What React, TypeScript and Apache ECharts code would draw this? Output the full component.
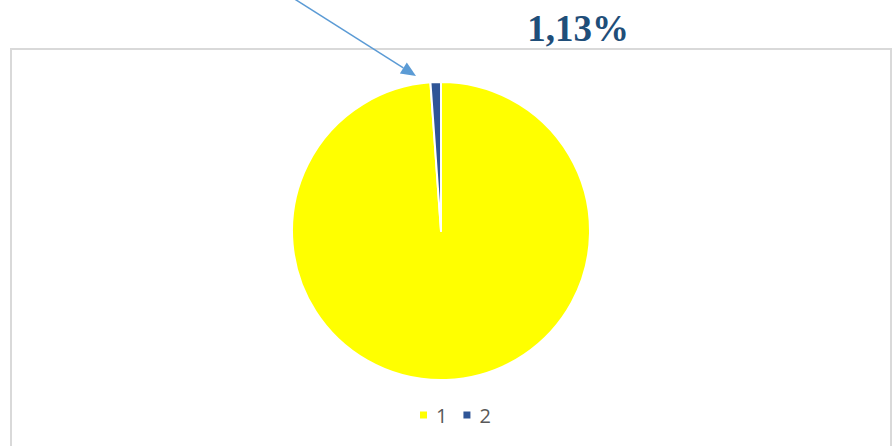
import React, { useEffect, useRef } from "react";
import * as echarts from "echarts";

const categories = ["1", "2"];
const values = [98.87, 1.13];
const colors = ["#FFFF00", "#2F5597"];
const annotation = "1,13%";

export default function App() {
  const ref = useRef<HTMLDivElement>(null);
  useEffect(() => {
    document.body.style.margin = "0";
    const chart = echarts.init(ref.current!, null, { renderer: "svg" });
    const tip = [416, 76];
    const start = [293, -2];
    const dx = tip[0] - start[0];
    const dy = tip[1] - start[1];
    const len = Math.sqrt(dx * dx + dy * dy);
    const ux = dx / len;
    const uy = dy / len;
    const hl = 15;
    const hw = 6.5;
    const bx = tip[0] - hl * ux;
    const by = tip[1] - hl * uy;
    chart.setOption({
      animation: false,
      backgroundColor: "#ffffff",
      legend: {
        data: categories,
        top: 400,
        left: 413,
        icon: "rect",
        itemWidth: 9,
        itemHeight: 9,
        itemGap: 14,
        textStyle: {
          fontSize: 20,
          color: "#595959",
          fontFamily: "'Open Sans'",
          padding: [0, 0, 0, 3],
        },
      },
      graphic: [
        {
          type: "rect",
          shape: { x: 11, y: 49, width: 880, height: 420 },
          style: { fill: "none", stroke: "#d9d9d9", lineWidth: 2 },
          silent: true,
          z: -1,
        },
        {
          type: "line",
          shape: { x1: start[0], y1: start[1], x2: bx, y2: by },
          style: { stroke: "#5B9BD5", lineWidth: 1.5 },
        },
        {
          type: "polygon",
          shape: {
            points: [
              [tip[0], tip[1]],
              [bx - hw * uy, by + hw * ux],
              [bx + hw * uy, by - hw * ux],
            ],
          },
          style: { fill: "#5B9BD5" },
        },
        {
          type: "text",
          x: 578,
          y: 28,
          style: {
            text: annotation,
            fontFamily: "'Liberation Serif', 'Times New Roman', serif",
            fontWeight: "bold",
            fontSize: 37,
            fill: "#1F4E79",
            align: "center",
            verticalAlign: "middle",
          },
        },
      ],
      series: [
        {
          type: "pie",
          center: [441, 231],
          radius: 149,
          startAngle: 90,
          clockwise: true,
          label: { show: false },
          labelLine: { show: false },
          itemStyle: { borderColor: "#ffffff", borderWidth: 2 },
          emphasis: { disabled: true },
          data: categories.map((c, i) => ({
            name: c,
            value: values[i],
            itemStyle: { color: colors[i] },
          })),
        },
      ],
    });
    return () => chart.dispose();
  }, []);
  return <div ref={ref} style={{ width: 895, height: 446 }} />;
}
